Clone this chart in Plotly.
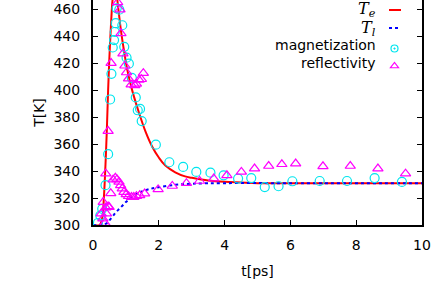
import plotly.graph_objects as go

# Model curves
te_t = [0.0, 0.2, 0.28, 0.33, 0.38, 0.42, 0.46, 0.50, 0.55, 0.60, 0.66, 0.72, 0.78, 0.85, 0.95,
        1.05, 1.2, 1.4, 1.6, 1.8, 2.0, 2.2, 2.5, 2.8, 3.0, 3.5, 4.0, 4.5, 5.0, 6.0, 8.0, 10.0]
te_T = [300, 300, 305, 320, 345, 370, 400, 425, 450, 468, 476, 470, 458, 444, 428,
        414, 399, 383, 369, 358, 350, 344, 339, 336, 335, 333, 332, 331.5, 331, 331, 331, 331]

tl_t = [0.0, 0.3, 0.4, 0.5, 0.6, 0.7, 0.8, 0.9, 1.0, 1.2, 1.4, 1.7, 2.0, 2.5, 3.0, 4.0, 6.0, 10.0]
tl_T = [300, 300, 301, 303.5, 306.5, 309.5, 312, 314.5, 317, 321, 324, 326.5, 328, 329.8, 330.6, 331, 331, 331]

# Measured data
mag_t = [0.15, 0.22, 0.28, 0.38, 0.46, 0.52, 0.56, 0.60, 0.64, 0.66, 0.69, 0.72, 0.80, 0.89, 0.95,
         1.02, 1.09, 1.18, 1.30, 1.36, 1.43, 1.48, 1.91, 2.32, 2.74, 3.14, 3.57, 3.97, 4.41, 4.81,
         5.22, 5.64, 6.06, 6.89, 7.72, 8.56, 9.39]
mag_T = [301.5, 307, 312, 329.5, 352.5, 393, 412, 431.5, 437, 443, 449.5, 460.5, 459.5, 448, 432,
         424, 419.5, 409, 394.5, 385, 386, 377, 359.5, 346.5, 343, 339.3, 338.8, 336.8, 334.4, 334.8,
         328.1, 328.7, 332.4, 332.6, 332.6, 334.8, 331.9]

ref_t = [0.25, 0.30, 0.31, 0.36, 0.39, 0.41, 0.46, 0.49, 0.39, 0.54, 0.61, 0.68, 0.73, 0.79, 0.84,
         0.89, 0.94, 1.01, 1.08, 1.17, 1.24, 1.32, 1.42, 1.57, 1.98, 2.41, 2.84, 3.24, 3.67, 4.07,
         4.51, 4.91, 5.34, 5.74, 6.16, 6.99, 7.82, 8.66, 9.50,
         0.46, 0.55, 0.75, 0.82, 0.85, 0.91, 0.97, 1.02, 1.08, 1.16, 1.27, 1.32, 1.40, 1.47, 1.53]
ref_T = [308.4, 304.7, 317, 301.5, 312.9, 308.4, 313.8, 313.3, 338, 323.5, 333.6, 335, 333.8, 331.9, 329.4,
         327, 324.4, 322.7, 321.3, 320.7, 320.7, 321.3, 322, 323.3, 326.4, 328.9, 331, 332.6, 334.4, 336.8,
         339.3, 341.8, 343.7, 345, 345.5, 343.5, 343.7, 341.8, 338,
         369.6, 420, 465, 459.5, 442, 427, 418, 413, 408.5, 404, 403.5, 404.5, 407.5, 408, 412.5]

legend_labels = ["<i>T</i><sub><i>e</i></sub>", "<i>T</i><sub><i>l</i></sub>", "magnetization", "reflectivity"]

x_ticks = [0, 2, 4, 6, 8, 10]
y_ticks = [300, 320, 340, 360, 380, 400, 420, 440, 460]

FONT = "DejaVu Sans"
W, H = 436, 283
ML, MR, MT, MB = 93, 14, 0, 58
PW, PH = W - ML - MR, H - MT - MB


def px2paper(px, py):
    return (px - ML) / PW, (H - MB - py) / PH


RED, BLUE, CYAN, MAGENTA = "#ff0000", "#0000ff", "#00e5ee", "#ff00ff"

fig = go.Figure()
fig.add_trace(go.Scatter(x=te_t, y=te_T, mode="lines", showlegend=False,
                         line=dict(color=RED, width=2), line_shape="spline"))
fig.add_trace(go.Scatter(x=tl_t, y=tl_T, mode="lines", showlegend=False,
                         line=dict(color=BLUE, width=2, dash="dot"), line_shape="spline"))
fig.add_trace(go.Scatter(x=mag_t, y=mag_T, mode="markers", showlegend=False,
                         marker=dict(symbol="circle-open", size=9, color=CYAN, line=dict(width=1.2))))
fig.add_trace(go.Scatter(x=ref_t, y=ref_T, mode="markers", showlegend=False,
                         marker=dict(symbol="triangle-up-open", size=9, color=MAGENTA, line=dict(width=1.2))))

# Legend entries (gnuplot style: right-aligned label, sample to the right)
leg_y = [10, 28, 45.5, 63]
sample_x = 394.5
fig.add_trace(go.Scatter(x=[None], y=[None], mode="markers", name=" ", legend="legend",
                         marker=dict(symbol="circle-open-dot", size=7, color=CYAN, line=dict(width=1.2))))
fig.add_trace(go.Scatter(x=[None], y=[None], mode="markers", name=" ", legend="legend2",
                         marker=dict(symbol="triangle-up-open", size=7, color=MAGENTA, line=dict(width=1.2))))

for (yy, col, dash) in [(leg_y[0], RED, "solid"), (leg_y[1], BLUE, "dot")]:
    x0, y0 = px2paper(389, yy)
    x1, _ = px2paper(401, yy)
    fig.add_shape(type="line", xref="paper", yref="paper", x0=x0, x1=x1, y0=y0, y1=y0,
                  line=dict(color=col, width=2, dash=dash))

for lab, yy in zip(legend_labels, leg_y):
    is_math = lab.startswith("<i>")
    ax, ay = px2paper(378, yy)
    fig.add_annotation(
        x=ax, y=ay, xref="paper", yref="paper",
        xanchor="right", yanchor="middle", showarrow=False, text=lab,
        font=dict(family="DejaVu Serif" if is_math else FONT, size=16 if is_math else 14, color="#000000"),
    )

lx1, ly1 = px2paper(sample_x - 20, leg_y[2] - 11.5)
lx2, ly2 = px2paper(sample_x - 20, leg_y[3] - 11.5)
legend_style = dict(xanchor="left", yanchor="top", bgcolor="rgba(0,0,0,0)", itemwidth=30,
                    font=dict(size=12), borderwidth=0)

fig.update_layout(
    width=W, height=H,
    margin=dict(l=ML, r=MR, t=MT, b=MB, autoexpand=False),
    paper_bgcolor="white", plot_bgcolor="white",
    font=dict(family=FONT, size=14, color="#000000"),
    showlegend=True,
    legend=dict(x=lx1, y=ly1, **legend_style),
    legend2=dict(x=lx2, y=ly2, **legend_style),
    xaxis=dict(range=[0, 10], tickvals=x_ticks, ticks="inside", ticklen=5, tickwidth=1,
               tickcolor="black", showline=True, linecolor="black", linewidth=2, mirror=False,
               showgrid=False, zeroline=False, ticklabelstandoff=6,
               title=dict(text="t[ps]", standoff=14, font=dict(size=14))),
    yaxis=dict(range=[300, 466.7], tickvals=y_ticks, ticks="inside", ticklen=5, tickwidth=1,
               tickcolor="black", showline=True, linecolor="black", linewidth=2, mirror="ticks",
               showgrid=False, zeroline=False, ticklabelstandoff=8,
               title=dict(text="T[K]", standoff=6, font=dict(size=14))),
)

fig.write_html("out.html", config={"displayModeBar": False},
               post_script="document.body.style.margin='0px';")
